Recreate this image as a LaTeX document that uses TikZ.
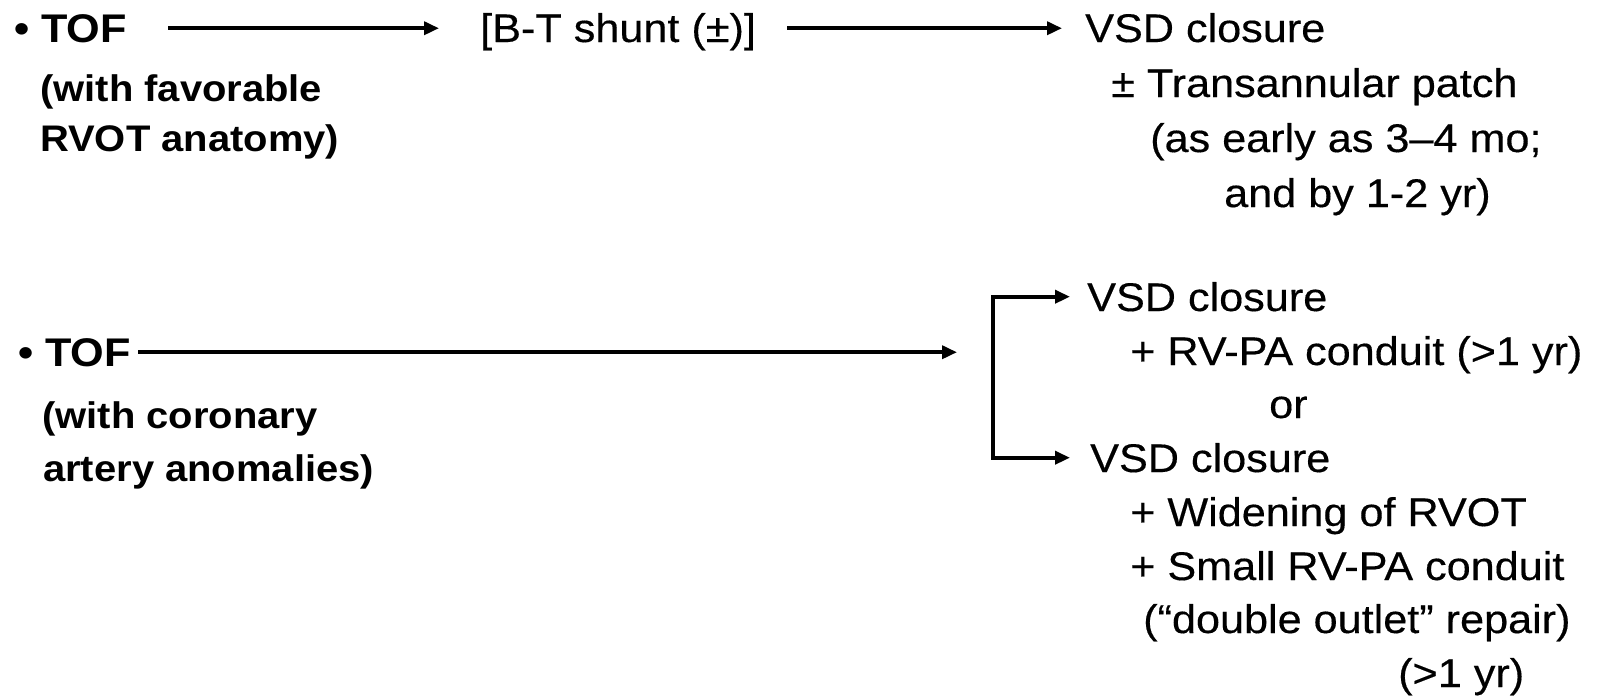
\documentclass[tikz,border=0pt]{standalone}
\usepackage{fontspec}
\setmainfont{Liberation Sans}[FakeStretch=1.08, UprightFeatures={FakeBold=0.35}]
\usetikzlibrary{arrows.meta,calc}
\begin{document}
\begin{tikzpicture}[x=1pt,y=-1pt,
  txt/.style={inner sep=0pt, anchor=base west, font=\fontsize{40}{48}\selectfont},
  bld/.style={inner sep=0pt, anchor=base west, font=\fontsize{37}{44}\selectfont\bfseries},
  tofstyle/.style={inner sep=0pt, anchor=base west, font=\fontsize{40}{48}\selectfont\bfseries},
  tip/.tip={Triangle[length=15pt,width=13pt]},
  arr/.style={line width=3.6pt, -tip},
  brk/.style={line width=3.6pt, tip-tip, line join=miter}]
\useasboundingbox (0,0) rectangle (1606,697);
% row 1
\node[tofstyle] (tof1) at (14,42) {• TOF};
\node[bld] (fav) at (40,101) {(with favorable};
\node[bld] (rvot) at (40,151) {RVOT anatomy)};
\node[txt] (bt) at (480,42) {[B-T shunt (±)]};
\node[txt] (vsdA) at (1085,42) {VSD closure};
\node[txt] (tpA) at (1111,97) {± Transannular patch};
\node[txt] (earlyA) at (1150,152) {(as early as 3--4 mo;};
\node[txt] (byA) at (1224,207) {and by 1-2 yr)};
\draw[arr] ($(tof1.east)+(41,0)$) -- ($(tof1.east -| bt.west)+(-41,0)$);
\draw[arr] ($(bt.east |- tof1.east)+(31,0)$) -- ($(vsdA.west |- tof1.east)+(-23,0)$);
% row 2
\node[tofstyle] (tof2) at (18,366) {• TOF};
\node[bld] (cor) at (42,428) {(with coronary};
\node[bld] (art) at (43,481) {artery anomalies)};
\node[txt] (vsdB) at (1087,311) {VSD closure};
\node[txt] (rvpa) at (1130,365) {+ RV-PA conduit (>1 yr)};
\node[txt] (orn) at (1269,418) {or};
\node[txt] (vsdC) at (1090,472) {VSD closure};
\node[txt] (wid) at (1130,526) {+ Widening of RVOT};
\node[txt] (small) at (1130,580) {+ Small RV-PA conduit};
\node[txt] (dbl) at (1143,633) {(“double outlet” repair)};
\node[txt] (gt) at (1398,687) {(>1 yr)};
\draw[arr] ($(tof2.east)+(7,0)$) -- ($(tof2.east -| vsdB.west)+(-130,0)$);
\draw[brk] ($(vsdB.west)+(-17,0)$) -- ($(vsdB.west)+(-94,0)$) -- ($(vsdC.west)+(-97,0)$) -- ($(vsdC.west)+(-20,0)$);
\end{tikzpicture}
\end{document}
